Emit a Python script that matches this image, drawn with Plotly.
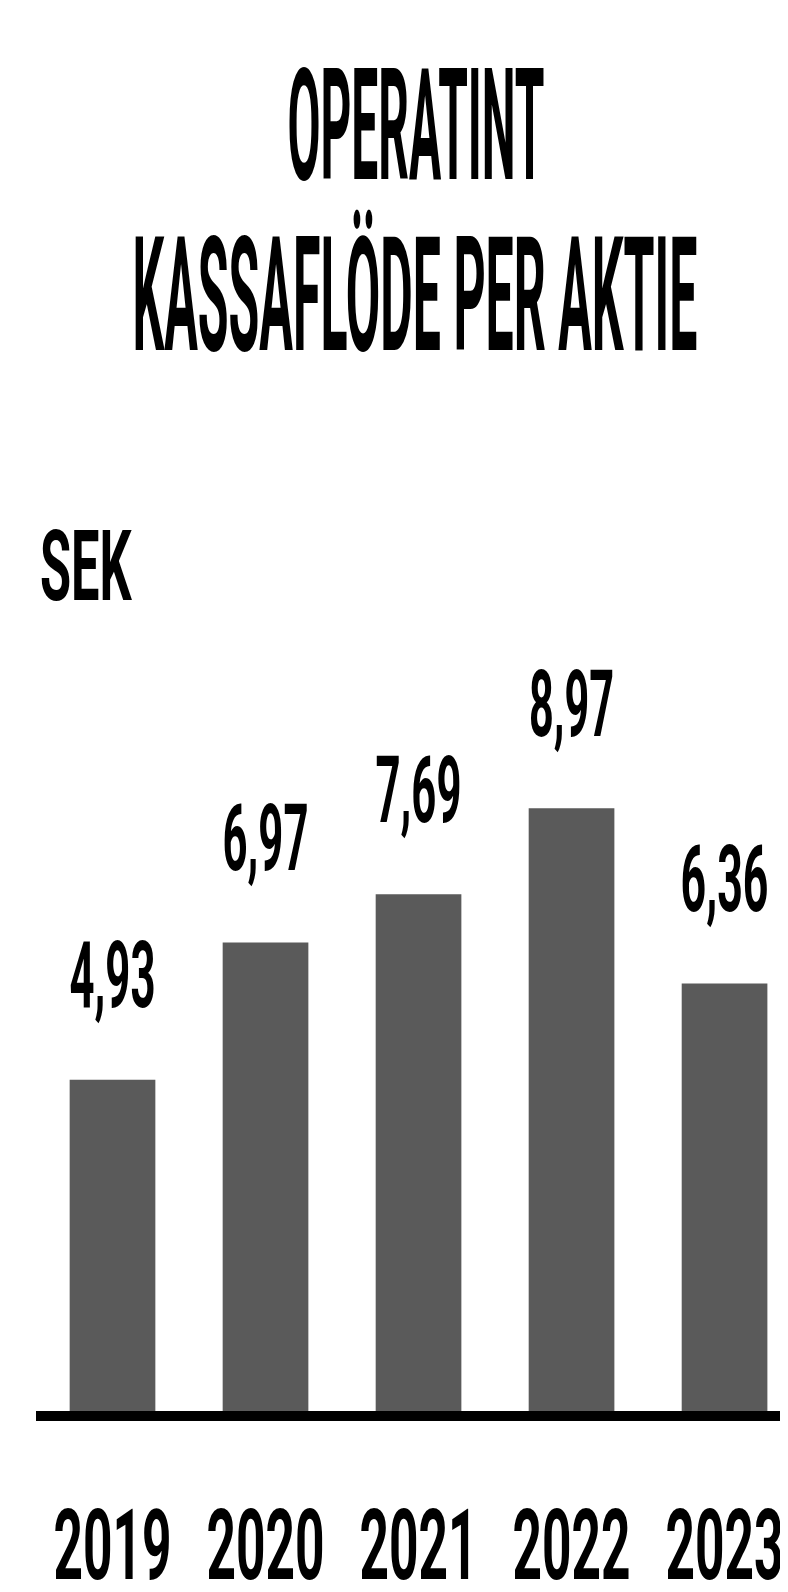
import plotly.graph_objects as go

years = ["2019", "2020", "2021", "2022", "2023"]
values = [4.93, 6.97, 7.69, 8.97, 6.36]
title_lines = ["OPERATINT", "KASSAFLÖDE PER AKTIE"]
unit_label = "SEK"

W, H = 788, 1592
PL, PR, PT, PB = 28, 0, 560, 189  # plot area margins in pixels
plot_w = W - PL - PR
plot_h = H - PT - PB
PX_PER_UNIT = 67.2

FONT = "Roboto, Liberation Sans, Arial, sans-serif"


def px_x(px):
    return (px - PL) / plot_w


def px_y(py):
    return (H - PB - py) / plot_h


fig = go.Figure()
fig.add_trace(go.Bar(
    x=years,
    y=values,
    width=0.56,
    marker=dict(color="#5a5a5a", line=dict(width=0)),
    hoverinfo="skip",
))

annotations = []
for i, v in enumerate(values):
    annotations.append(dict(
        x=i, y=v, xref="x", yref="y",
        text=f"{v:.2f}".replace(".", ","),
        showarrow=False, yanchor="middle", xanchor="center", yshift=104,
        font=dict(family=FONT, size=92, color="#000000", weight=700),
    ))

annotations.append(dict(
    x=px_x(408), y=px_y(118), xref="paper", yref="paper",
    text=title_lines[0], showarrow=False, xanchor="center", yanchor="middle",
    font=dict(family=FONT, size=156, color="#000000", weight=700),
))
annotations.append(dict(
    x=px_x(407), y=px_y(288), xref="paper", yref="paper",
    text=title_lines[1], showarrow=False, xanchor="center", yanchor="middle",
    font=dict(family=FONT, size=160, color="#000000", weight=700),
))
annotations.append(dict(
    x=px_x(30), y=px_y(558), xref="paper", yref="paper",
    text=unit_label, showarrow=False, xanchor="left", yanchor="middle",
    font=dict(family=FONT, size=98, color="#000000", weight=700),
))

fig.update_layout(
    template="none",
    width=W, height=H,
    margin=dict(l=PL, r=PR, t=PT, b=PB, pad=0, autoexpand=False),
    paper_bgcolor="#ffffff", plot_bgcolor="#ffffff",
    showlegend=False,
    annotations=annotations,
    xaxis=dict(
        type="category",
        range=[-0.5, 4.467],
        automargin=False,
        showline=True, linecolor="#000000", linewidth=10,
        showgrid=False, zeroline=False, ticks="",
        tickangle=0,
        tickfont=dict(family=FONT, size=98, color="#000000", weight=700),
        ticklabelstandoff=40,
        fixedrange=True,
    ),
    yaxis=dict(
        range=[0, plot_h / PX_PER_UNIT],
        automargin=False,
        visible=False, showgrid=False, zeroline=False,
        fixedrange=True,
    ),
)

# Condense the text horizontally to mimic the narrow typeface of the original.
post_js = """
var gd = document.getElementById('{plot_id}');
function squeeze(el, target, anchor){
  var bb = el.getBBox();
  if(!bb.width) return;
  var f = target / bb.width;
  var cx = anchor === 'l' ? bb.x : bb.x + bb.width / 2;
  var t = el.getAttribute('transform') || '';
  el.setAttribute('transform', t + ' translate(' + cx + ',0) scale(' + f + ',1) translate(' + (-cx) + ',0)');
}
var annW = [86, 86, 86, 85, 88, 257, 565, 92];
var annA = ['c', 'c', 'c', 'c', 'c', 'c', 'c', 'l'];
gd.querySelectorAll('.annotation-text').forEach(function(el, i){ squeeze(el, annW[i], annA[i]); });
gd.querySelectorAll('.xtick text').forEach(function(el){ squeeze(el, 118, 'c'); });
"""

fig.write_html("out.html", post_script=post_js)
